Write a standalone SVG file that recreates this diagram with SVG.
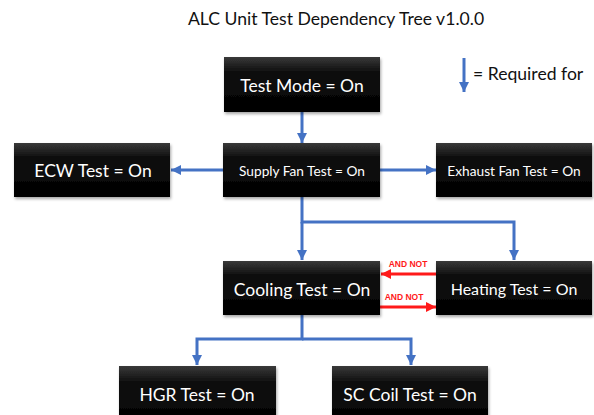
<svg xmlns="http://www.w3.org/2000/svg" width="594" height="415" viewBox="0 0 594 415">
<style>
.box{fill:url(#bg);filter:url(#sh)}
.t{font-family:Lato,"Open Sans","Liberation Sans",sans-serif;fill:#fff;text-anchor:middle;dominant-baseline:central}
.big{font-size:17.5px}
.mid{font-size:16px}
.sm{font-size:13.7px}
.blue{stroke:#4472C4;stroke-width:3;fill:none}
.red{stroke:#FF1A1A;stroke-width:3;fill:none}
.lbl{font-family:"Liberation Sans",Arial,sans-serif;font-size:8.5px;font-weight:bold;fill:#FF1A1A;text-anchor:middle}
.hdr{font-family:Lato,"Open Sans","Liberation Sans",sans-serif;font-size:17.6px;fill:#111}
</style>
<defs>
<linearGradient id="bg" x1="0" y1="0" x2="0" y2="1">
<stop offset="0" stop-color="#3a3a3a"/>
<stop offset="0.25" stop-color="#111"/>
<stop offset="1" stop-color="#000"/>
</linearGradient>
<filter id="sh" x="-10%" y="-10%" width="120%" height="130%">
<feDropShadow dx="1" dy="2" stdDeviation="1.5" flood-color="#000" flood-opacity="0.35"/>
</filter>
<marker id="ab" markerUnits="userSpaceOnUse" markerWidth="12" markerHeight="12" refX="10" refY="6" orient="auto">
<path d="M0,1 L10,6 L0,11 Z" fill="#4472C4"/>
</marker>
<marker id="ar" markerUnits="userSpaceOnUse" markerWidth="12" markerHeight="12" refX="10" refY="6" orient="auto">
<path d="M0,1 L10,6 L0,11 Z" fill="#FF1A1A"/>
</marker>
</defs>
<rect width="594" height="415" fill="#fff"/>
<text class="hdr" x="336" y="25" text-anchor="middle">ALC Unit Test Dependency Tree v1.0.0</text>
<g id="legend">
<line class="blue" x1="464" y1="58" x2="464" y2="92" marker-end="url(#ab)"/>
<text class="hdr" x="473" y="80">= Required for</text>
</g>
<g id="connectors">
<line class="blue" x1="302" y1="112" x2="302" y2="143" marker-end="url(#ab)"/>
<line class="blue" x1="223" y1="170" x2="171" y2="170" marker-end="url(#ab)"/>
<line class="blue" x1="380" y1="170" x2="436" y2="170" marker-end="url(#ab)"/>
<path class="blue" d="M302,197 V222 H514 V260" marker-end="url(#ab)"/>
<line class="blue" x1="302" y1="222" x2="302" y2="260" marker-end="url(#ab)"/>
<path class="blue" d="M302,315 V339 H197 V365" marker-end="url(#ab)"/>
<path class="blue" d="M302,339 H411 V365" marker-end="url(#ab)"/>
<line class="red" x1="436" y1="274" x2="381" y2="274" marker-end="url(#ar)"/>
<line class="red" x1="380" y1="307" x2="436" y2="307" marker-end="url(#ar)"/>
<text class="lbl" x="408" y="267">AND NOT</text>
<text class="lbl" x="404" y="300">AND NOT</text>
</g>
<g id="test-mode"><rect class="box" x="224" y="57" width="156" height="55"/><text class="t big" x="302" y="85">Test Mode = On</text></g>
<g id="ecw"><rect class="box" x="14" y="143" width="156" height="54"/><text class="t big" x="93" y="170">ECW Test = On</text></g>
<g id="supply-fan"><rect class="box" x="223" y="143" width="157" height="54"/><text class="t sm" x="302" y="170">Supply Fan Test = On</text></g>
<g id="exhaust-fan"><rect class="box" x="436" y="143" width="156" height="54"/><text class="t sm" x="514" y="170">Exhaust Fan Test = On</text></g>
<g id="cooling"><rect class="box" x="223" y="261" width="157" height="54"/><text class="t big" x="302" y="289">Cooling Test = On</text></g>
<g id="heating"><rect class="box" x="436" y="261" width="156" height="54"/><text class="t mid" x="514" y="288">Heating Test = On</text></g>
<g id="hgr"><rect class="box" x="119" y="366" width="157" height="60"/><text class="t big" x="197" y="394">HGR Test = On</text></g>
<g id="sc-coil"><rect class="box" x="332" y="366" width="156" height="60"/><text class="t big" x="410" y="394">SC Coil Test = On</text></g>
</svg>
